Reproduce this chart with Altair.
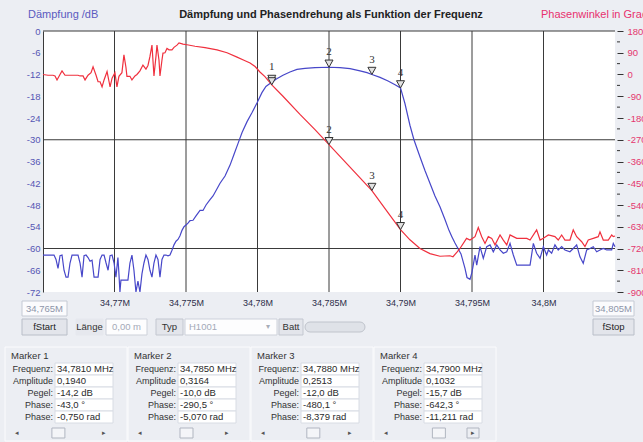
import altair as alt
import pandas as pd

# ------------------------------------------------------------------ data
f_start, f_stop = 34.765, 34.805

blue_freq = [
    34.76500, 34.76549, 34.76577, 34.76591, 34.76605, 34.76619, 34.76633, 34.76647, 34.76661, 34.76675,
    34.76689, 34.76703, 34.76724, 34.76745, 34.76759, 34.76773, 34.76787, 34.76801, 34.76815, 34.76829,
    34.76843, 34.76857, 34.76871, 34.76885, 34.76899, 34.76913, 34.76927, 34.76941, 34.76955, 34.76969,
    34.76983, 34.76997, 34.77010, 34.77024, 34.77031, 34.77038, 34.77045, 34.77066, 34.77094, 34.77108,
    34.77122, 34.77136, 34.77150, 34.77164, 34.77178, 34.77192, 34.77206, 34.77220, 34.77234, 34.77248,
    34.77262, 34.77276, 34.77290, 34.77304, 34.77318, 34.77332, 34.77346, 34.77360, 34.77374, 34.77388,
    34.77402, 34.77416, 34.77430, 34.77444, 34.77458, 34.77472, 34.77486, 34.77500, 34.77514, 34.77528,
    34.77549, 34.77570, 34.77598, 34.77619, 34.77640, 34.77668, 34.77689, 34.77717, 34.77738, 34.77773,
    34.77808, 34.77836, 34.77864, 34.77892, 34.77927, 34.77962, 34.77997, 34.78031, 34.78059, 34.78087,
    34.78100, 34.78129, 34.78178, 34.78227, 34.78276, 34.78332, 34.78402, 34.78500, 34.78577, 34.78647,
    34.78717, 34.78766, 34.78800, 34.78857, 34.78913, 34.78962, 34.79000, 34.79031, 34.79066, 34.79094,
    34.79136, 34.79171, 34.79206, 34.79241, 34.79276, 34.79311, 34.79339, 34.79360, 34.79381, 34.79402,
    34.79423, 34.79437, 34.79451, 34.79465, 34.79486, 34.79500, 34.79521, 34.79533, 34.79556, 34.79579,
    34.79603, 34.79626, 34.79649, 34.79673, 34.79696, 34.79719, 34.79743, 34.79766, 34.79789, 34.79813,
    34.79836, 34.79871, 34.79906, 34.79929, 34.79952, 34.79976, 34.79999, 34.80022, 34.80034, 34.80057,
    34.80080, 34.80103, 34.80127, 34.80150, 34.80185, 34.80208, 34.80232, 34.80255, 34.80278, 34.80302,
    34.80325, 34.80348, 34.80372, 34.80395, 34.80418, 34.80442, 34.80477, 34.80488, 34.80500,
]
blue_db = [
    -61.8, -61.8, -61.8, -63.0, -65.5, -62.0, -61.8, -66.0, -67.9, -67.9,
    -64.0, -61.8, -61.8, -61.8, -64.0, -67.9, -62.0, -61.8, -62.5, -63.5,
    -63.2, -67.9, -67.9, -67.9, -63.0, -61.8, -61.8, -64.0, -66.0, -62.0,
    -61.8, -64.0, -67.9, -62.5, -67.0, -72.0, -68.7, -68.7, -68.7, -64.0,
    -61.8, -66.0, -72.0, -69.0, -72.0, -67.0, -64.0, -61.8, -63.0, -66.0,
    -67.9, -64.0, -61.8, -63.0, -67.9, -63.0, -61.8, -61.8, -62.0, -61.8,
    -60.5, -59.0, -58.0, -57.5, -56.5, -55.0, -54.0, -53.5, -53.0, -52.3,
    -52.2, -51.0, -49.5, -49.5, -48.0, -46.5, -45.5, -43.5, -42.0, -40.0,
    -37.0, -34.0, -31.0, -28.0, -25.0, -22.5, -19.8, -17.0, -15.3, -14.5,
    -14.2, -13.3, -12.2, -11.3, -10.6, -10.3, -10.1, -10.0, -10.1, -10.4,
    -11.0, -11.5, -12.0, -12.8, -13.8, -14.8, -15.7, -20.0, -26.0, -30.0,
    -34.7, -38.5, -42.0, -45.5, -48.5, -52.0, -55.0, -56.8, -58.5, -60.0,
    -61.5, -63.5, -65.5, -68.0, -68.5, -66.5, -61.8, -64.6, -59.5, -62.7,
    -59.5, -59.0, -60.9, -59.0, -60.4, -61.3, -60.9, -58.6, -61.8, -64.6,
    -64.6, -64.6, -64.6, -58.6, -61.3, -62.7, -59.5, -61.8, -60.4, -61.3,
    -59.0, -60.4, -59.5, -60.4, -60.9, -60.0, -59.0, -62.3, -64.1, -60.4,
    -60.0, -59.5, -60.9, -60.4, -60.0, -60.4, -60.4, -58.6, -59.5,
]

red_freq = [
    34.76500, 34.76535, 34.76570, 34.76584, 34.76598, 34.76619, 34.76633, 34.76654, 34.76703, 34.76745,
    34.76759, 34.76780, 34.76794, 34.76815, 34.76836, 34.76850, 34.76871, 34.76885, 34.76899, 34.76913,
    34.76927, 34.76948, 34.76962, 34.76969, 34.76983, 34.77003, 34.77017, 34.77031, 34.77052, 34.77066,
    34.77080, 34.77087, 34.77108, 34.77122, 34.77143, 34.77157, 34.77178, 34.77199, 34.77220, 34.77234,
    34.77248, 34.77262, 34.77276, 34.77290, 34.77297, 34.77311, 34.77318, 34.77332, 34.77339, 34.77353,
    34.77367, 34.77381, 34.77402, 34.77416, 34.77437, 34.77451, 34.77479, 34.77507, 34.77563, 34.77633,
    34.77717, 34.77787, 34.77857, 34.77913, 34.77948, 34.77983, 34.78017, 34.78052, 34.78100, 34.78178,
    34.78297, 34.78402, 34.78500, 34.78647, 34.78800, 34.78906, 34.79000, 34.79066, 34.79136, 34.79206,
    34.79276, 34.79346, 34.79367, 34.79395, 34.79416, 34.79462, 34.79486, 34.79521, 34.79544, 34.79568,
    34.79591, 34.79614, 34.79638, 34.79661, 34.79696, 34.79719, 34.79743, 34.79766, 34.79789, 34.79813,
    34.79848, 34.79883, 34.79906, 34.79952, 34.79976, 34.79999, 34.80034, 34.80080, 34.80103, 34.80127,
    34.80150, 34.80185, 34.80208, 34.80232, 34.80267, 34.80290, 34.80313, 34.80348, 34.80383, 34.80395,
    34.80418, 34.80453, 34.80477, 34.80488, 34.80500,
]
red_phase = [
    0, -3, -3, -6, -22.5, 0, 15, -3, -3, -3,
    -6, -6, -22.5, -3, 7.5, 31.5, -3, -30, -30, -51,
    -22.5, 12, -30, -51, -15, 7.5, -51, -7.5, 7.5, 81,
    30, -7.5, -7.5, -22.5, -6, 0, 15, 39, 22.5, 37.5,
    75, 121.5, -6, 75, 121.5, 60, -6, 60, 88.5, 90,
    108, 102, 102, 112.5, 121.5, 130.5, 126, 123, 117, 111,
    102, 90, 72, 57, 48, 33, 10.5, -9, -43, -90,
    -165, -228, -290.5, -383, -480.1, -566, -642.3, -684, -720, -741,
    -752, -750, -754, -735, -720, -678, -685, -671, -633, -671,
    -699, -671, -678, -705, -664, -685, -705, -664, -671, -678,
    -678, -678, -685, -643, -685, -678, -664, -671, -685, -664,
    -685, -685, -643, -671, -692, -712, -685, -678, -671, -651,
    -685, -685, -664, -671, -668,
]

marker_id = ["1", "2", "3", "4"]
marker_freq = [34.7810, 34.7850, 34.7880, 34.7900]
marker_amp = [0.1940, 0.3164, 0.2513, 0.1032]
marker_pegel = [-14.2, -10.0, -12.0, -15.7]
marker_phase_deg = [-43.0, -290.5, -480.1, -642.3]
marker_phase_rad = [-0.750, -5.070, -8.379, -11.211]

x_ticks = [34.77, 34.775, 34.78, 34.785, 34.79, 34.795, 34.80]
db_ticks = list(range(-72, 1, 6))
db_grid = [0, -30, -60]
phase_ticks = list(range(-900, 181, 90))
phase_minor = list(range(-855, 180, 90))

title_text = "Dämpfung und Phasendrehung als Funktion der Frequenz"
left_title = "Dämpfung /dB"
right_title = "Phasenwinkel in Grad"
row_labels = ["Frequenz:", "Amplitude", "Pegel:", "Phase:", "Phase:"]

# ------------------------------------------------------------------ layout
OX, OY = 43, 31          # page position of the plot origin
W, H = 572, 261          # plot area
FONT = "Liberation Sans"


def de(v, fmt):
    return format(v, fmt).replace(".", ",")


xs = alt.Scale(domain=[f_start, f_stop], nice=False, zero=False)
dbs = alt.Scale(domain=[-72, 0], nice=False, zero=False)
phs = alt.Scale(domain=[-900, 180], nice=False, zero=False)

vgrid = alt.Chart(pd.DataFrame({"f": x_ticks})).mark_rule(color="#3a3a3a", strokeWidth=1).encode(
    x=alt.X("f:Q", scale=xs, axis=None))
hgrid = alt.Chart(pd.DataFrame({"db": db_grid})).mark_rule(color="#3a3a3a", strokeWidth=1).encode(
    y=alt.Y("db:Q", scale=dbs, axis=None))

blue = alt.Chart(pd.DataFrame({"f": blue_freq, "db": blue_db})).mark_line(
    color="#4747c9", strokeWidth=1.2).encode(
    x=alt.X("f:Q", scale=xs, axis=alt.Axis(
        orient="bottom", values=x_ticks, title="", grid=False, ticks=False, domain=False,
        labelExpr="replace(format(datum.value, '.3~f'), '.', ',') + 'M'",
        labelColor="#2e2e4a", labelFontSize=9, labelFont=FONT, labelPadding=6,
        labelOverlap=False, labelFlush=False)),
    y=alt.Y("db:Q", scale=dbs, axis=alt.Axis(
        orient="left", values=db_ticks, title="", grid=False, ticks=False, domain=True,
        domainColor="#3a3a3a", labelExpr="'' + datum.value", labelColor="#5656b4",
        labelFontSize=9.5, labelFont=FONT, labelPadding=3, labelOverlap=False, labelFlush=False)),
)

red = alt.Chart(pd.DataFrame({"f": red_freq, "ph": red_phase})).mark_line(
    color="#f0303e", strokeWidth=1.2).encode(
    x=alt.X("f:Q", scale=xs, axis=None),
    y=alt.Y("ph:Q", scale=phs, axis=alt.Axis(
        orient="right", values=phase_ticks, title="", grid=False, ticks=True, tickSize=6,
        tickColor="#333333", domain=False, offset=2, labelExpr="'' + datum.value",
        labelColor="#e4366e", labelFontSize=9.5, labelFont=FONT, labelPadding=4,
        labelOverlap=False, labelFlush=False)),
)

minor = alt.Chart(pd.DataFrame({"ph": phase_minor})).mark_rule(color="#333333").encode(
    y=alt.Y("ph:Q", scale=phs, axis=None), x=alt.value(W + 2), x2=alt.value(W + 5))

mk = pd.DataFrame({"id": marker_id, "f": marker_freq, "db": marker_pegel, "ph": marker_phase_deg})
TRI = "M-1,-1.8L1,-1.8L0,0Z"
blue_mk = alt.Chart(mk).mark_point(shape=TRI, size=64, filled=True, fill="#e2e2e2",
                                   stroke="#333333", strokeWidth=1, opacity=1).encode(
    x=alt.X("f:Q", scale=xs, axis=None), y=alt.Y("db:Q", scale=dbs, axis=None))
blue_lab = alt.Chart(mk).mark_text(dy=-15, font="Liberation Serif", fontSize=11, color="#333333").encode(
    x=alt.X("f:Q", scale=xs, axis=None), y=alt.Y("db:Q", scale=dbs, axis=None), text="id:N")
red_mk = alt.Chart(mk).mark_point(shape=TRI, size=64, filled=True, fill="#e2e2e2",
                                  stroke="#333333", strokeWidth=1, opacity=1).encode(
    x=alt.X("f:Q", scale=xs, axis=None), y=alt.Y("ph:Q", scale=phs, axis=None))
# marker 1 sits where both curves cross: its number is shown once (by the blue layer)
red_lab = alt.Chart(mk).transform_filter("datum.id != '1'").mark_text(
    dy=-15, font="Liberation Serif", fontSize=11, color="#333333").encode(
    x=alt.X("f:Q", scale=xs, axis=None), y=alt.Y("ph:Q", scale=phs, axis=None), text="id:N")

# ------------------------------------------------------------------ GUI
rects, texts = [], []


def rect(x0, x1, y0, y1, fill, stroke):
    rects.append({"x": x0 - OX, "x2": x1 - OX, "y": y0 - OY, "y2": y1 - OY, "fill": fill, "stroke": stroke})


def text(t, x, y, color, size, align):
    texts.append({"x": x - OX, "y": y - OY, "t": t, "c": color, "s": size, "a": align})


texts_bold = [{"x": 288, "y": -16, "t": title_text, "c": "#222222", "s": 11, "a": "center"}]
text(left_title, 28, 15, "#5a5ac0", 11, "left")
text(right_title, 541, 15, "#e8306e", 11, "left")

widgets = [
    (22, 67, 301, 316, "#fbfbfd", "#c5cad4", de(f_start, ".3f") + "M", "#8e96aa", "center"),
    (22, 67, 319, 335, "#e3e5eb", "#b9bec8", "fStart", "#1e1e1e", "center"),
    (76, 103, 319, 335, "#e6e8ee", "#e6e8ee", "Länge", "#333333", "center"),
    (106, 147, 319, 335, "#fdfdfe", "#cdd1da", "0,00 m", "#a3a9b8", "center"),
    (156, 183, 319, 335, "#e3e5eb", "#c3c7d0", "Typ", "#333333", "center"),
    (185, 277, 319, 335, "#fdfdfe", "#cdd1da", "H1001", "#a3a9b8", "left"),
    (279, 303, 319, 335, "#e3e5eb", "#c3c7d0", "Batt", "#333333", "center"),
    (593, 634, 301, 316, "#fbfbfd", "#c5cad4", de(f_stop, ".3f") + "M", "#8e96aa", "center"),
    (593, 634, 319, 335, "#e3e5eb", "#b9bec8", "fStop", "#1e1e1e", "center"),
]
for x0, x1, y0, y1, fill, stroke, t, tc, al in widgets:
    rect(x0, x1, y0, y1, fill, stroke)
    if al == "center":
        text(t, (x0 + x1) / 2, (y0 + y1) / 2, tc, 9.5, "center")
    else:
        text(t, x0 + 4, (y0 + y1) / 2, tc, 9.5, "left")
text("▾", 268, 327, "#a8adb8", 8, "center")

rows_y = [369, 381, 393, 405, 417]
for i in range(4):
    lx = 6 + 123 * i
    rect(lx - 1, lx + 121, 347, 441, "transparent", "#fbfbfd")
    text("Marker " + marker_id[i], lx + 5, 356, "#333333", 9.5, "left")
    vals = [de(marker_freq[i], ".4f") + " MHz", de(marker_amp[i], ".4f"),
            de(marker_pegel[i], ".1f") + " dB", de(marker_phase_deg[i], ".1f") + " °",
            de(marker_phase_rad[i], ".3f") + " rad"]
    for ry, lab, v in zip(rows_y, row_labels, vals):
        rect(lx + 49, lx + 107, ry - 6, ry + 6, "#ffffff", "#d8dce4")
        text(lab, lx + 47, ry, "#333333", 9, "right")
        text(v, lx + 51, ry, "#2a2a2a", 9.5, "left")
    frac = (marker_freq[i] - f_start) / (f_stop - f_start)
    cx = lx + 32 + frac * 51
    rect(cx - 6.5, cx + 6.5, 428, 438, "#f4f5f8", "#b0b5c0")
    text("◂", lx + 9, 433, "#555555", 7, "left")
    text("▸", lx + 98, 433, "#555555", 7, "center")
    if i == 3:
        rect(lx + 92, lx + 104, 428, 438, "transparent", "#b0b5c0")

gui_rect = alt.Chart(pd.DataFrame(rects)).mark_rect(strokeWidth=1).encode(
    x=alt.X("x:Q", scale=None, axis=None), x2="x2:Q",
    y=alt.Y("y:Q", scale=None, axis=None), y2="y2:Q",
    fill=alt.Fill("fill:N", scale=None), stroke=alt.Stroke("stroke:N", scale=None))

bar = alt.Chart(pd.DataFrame({"x": [305 - OX], "x2": [365 - OX], "y": [322 - OY], "y2": [332 - OY]})).mark_rect(
    cornerRadius=5, fill="#dfe2e8", stroke="#c0c4cc", strokeWidth=1).encode(
    x=alt.X("x:Q", scale=None, axis=None), x2="x2:Q",
    y=alt.Y("y:Q", scale=None, axis=None), y2="y2:Q")

tdf = pd.DataFrame(texts)


def text_layer(df, align, weight="normal"):
    return alt.Chart(df).mark_text(align=align, baseline="middle", font=FONT, fontWeight=weight).encode(
        x=alt.X("x:Q", scale=None, axis=None), y=alt.Y("y:Q", scale=None, axis=None),
        text="t:N", color=alt.Color("c:N", scale=None), size=alt.Size("s:Q", scale=None))


t_left = text_layer(tdf[tdf.a == "left"], "left")
t_center = text_layer(tdf[tdf.a == "center"], "center")
t_right = text_layer(tdf[tdf.a == "right"], "right")
t_bold = text_layer(pd.DataFrame(texts_bold), "center", "bold")

chart = alt.layer(
    vgrid, hgrid, blue, red, minor, blue_mk, red_mk, blue_lab, red_lab,
    gui_rect, bar, t_left, t_center, t_right, t_bold,
).resolve_scale(x="independent", y="independent").properties(
    width=W, height=H,
    padding={"left": OX, "top": OY, "right": 643 - OX - W, "bottom": 442 - OY - H},
    autosize=alt.AutoSizeParams(type="none"),
    background="#eceef3",
).configure_view(fill="white", strokeWidth=0)

chart.save("out.html", embed_options={"renderer": "svg", "actions": False})
